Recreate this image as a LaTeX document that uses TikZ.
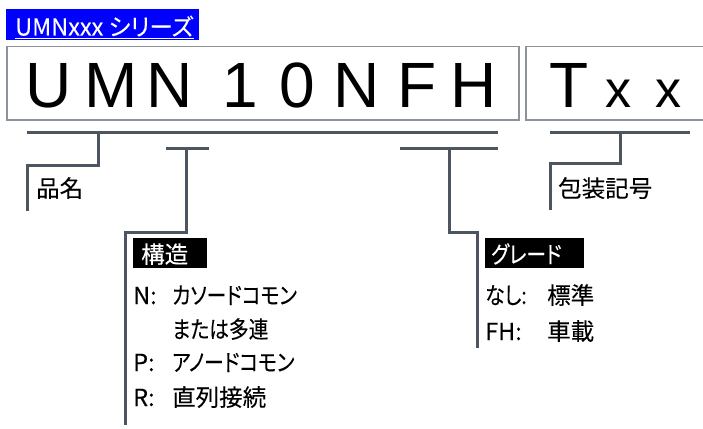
\documentclass[tikz,border=0pt]{standalone}
\usepackage{fontspec}
\setmainfont{Liberation Sans}
\newfontfamily\jp[RawFeature=+palt,FakeBold=0.12]{Noto Sans CJK JP}
\newfontfamily\jpk[RawFeature=+palt,FakeStretch=0.84,FakeBold=0.12]{Noto Sans CJK JP}
\usetikzlibrary{calc}
\definecolor{linec}{HTML}{4D5660}
\definecolor{framec}{HTML}{8C939A}
\definecolor{titleblue}{HTML}{0000FF}
\begin{document}
\begin{tikzpicture}[x=1pt,y=-1pt,
  conn/.style={draw=linec,line width=3pt},
  frame/.style={draw=framec,line width=1.5pt},
  bigch/.style={font=\fontsize{64}{64}\selectfont,anchor=base,inner sep=0pt},
  smallx/.style={font=\fontsize{52}{52}\selectfont,anchor=base,inner sep=0pt},
  jtext/.style={font=\jp\fontsize{23.5}{23.5}\selectfont,anchor=base west,inner sep=0pt},
  ktext/.style={font=\jpk\fontsize{23.5}{23.5}\selectfont,anchor=base west,inner sep=0pt},
  tagbox/.style={fill=black,inner sep=0pt,anchor=north west},
  tagtext/.style={text=white,anchor=base west,inner sep=0pt}
]
\useasboundingbox (0,0) rectangle (703,428);
% title
\node[fill=titleblue,inner sep=0pt,anchor=north west,minimum width=193pt,minimum height=31pt] (ttlbox) at (6,9) {};
\node[font=\jp\fontsize{23.5}{23.5}\selectfont,text=white,anchor=base west,inner sep=0pt] (ttl) at (15,35.5) {UMNxxx シリーズ};
\draw[white,line width=1pt] ($(ttl.base west)+(0,2.8)$) -- ($(ttl.base east)+(0,2.8)$);
% frames
\node[frame,inner sep=0pt,anchor=north west,minimum width=512pt,minimum height=73pt] (f1) at (6,46) {};
\node[frame,inner sep=0pt,anchor=north west,minimum width=200pt,minimum height=73pt] (f2) at (525,46) {};
% big letters
\node[bigch] (c1) at (48.5,107) {U};
\node[bigch] (c2) at (111,107) {M};
\node[bigch] (c3) at (169.5,107) {N};
\node[bigch] (c4) at (240,107) {1};
\node[bigch] (c5) at (297,107) {0};
\node[bigch] (c6) at (356.5,107) {N};
\node[bigch] (c7) at (417,107) {F};
\node[bigch] (c8) at (473.5,107) {H};
\node[bigch] (c9) at (569,107) {T};
\node[smallx] (c10) at (618.5,107) {x};
\node[smallx] (c11) at (668.5,107) {x};
% bracket coordinates
\coordinate (m1) at (27,132); \coordinate (m2) at (498,132);
\coordinate (h1) at (98,132); \coordinate (h2) at (98,165); \coordinate (h3) at (27,165); \coordinate (h4) at (27,211);
\coordinate (k0) at (166,148); \coordinate (k9) at (209,148);
\coordinate (k1) at (186,148); \coordinate (k2) at (186,232); \coordinate (k3) at (125,232); \coordinate (k4) at (125,425);
\coordinate (g0) at (400,148); \coordinate (g9) at (498,148);
\coordinate (g1) at (449,148); \coordinate (g2) at (449,232); \coordinate (g3) at (477,232); \coordinate (g4) at (477,348);
\coordinate (p0) at (550,132); \coordinate (p9) at (690,132);
\coordinate (p1) at (620,132); \coordinate (p2) at (620,163); \coordinate (p3) at (550,163); \coordinate (p4) at (550,210);
\draw[conn] (m1) -- (m2);
\draw[conn] (h1) -- (h2) -- (h3) -- (h4);
\draw[conn] (k0) -- (k9);
\draw[conn] (k1) -- (k2) -- (k3) -- (k4);
\draw[conn] (g0) -- (g9);
\draw[conn] (g1) -- (g2) -- (g3) -- (g4);
\draw[conn] (p0) -- (p9);
\draw[conn] (p1) -- (p2) -- (p3) -- (p4);
% labels
\node[jtext] (hinmei) at (36,197) {品名};
\node[jtext] (housou) at (558,197) {包装記号};
% kouzou
\node[tagbox,minimum width=74pt,minimum height=30pt] (ktag) at (133,238) {};
\node[jtext,tagtext] (ktxt) at (141,263) {構造};
\node[jtext] (n1) at (133,304) {N:};
\node[ktext] (n2) at (172,304) {カソードコモン};
\node[ktext] (n3) at (172,338) {または多連};
\node[jtext] (p1t) at (133,371) {P:};
\node[ktext] (p2t) at (172,371) {アノードコモン};
\node[jtext] (r1) at (133,406) {R:};
\node[jtext] (r2) at (172,406) {直列接続};
% grade
\node[tagbox,minimum width=99pt,minimum height=30pt] (gtag) at (485,238) {};
\node[ktext,tagtext] (gtxt) at (491,263) {グレード};
\node[ktext] (g1t) at (485,304) {なし:};
\node[jtext] (g2t) at (547,304) {標準};
\node[jtext] (g3t) at (485,340) {FH:};
\node[jtext] (g4t) at (547,340) {車載};
\end{tikzpicture}
\end{document}
